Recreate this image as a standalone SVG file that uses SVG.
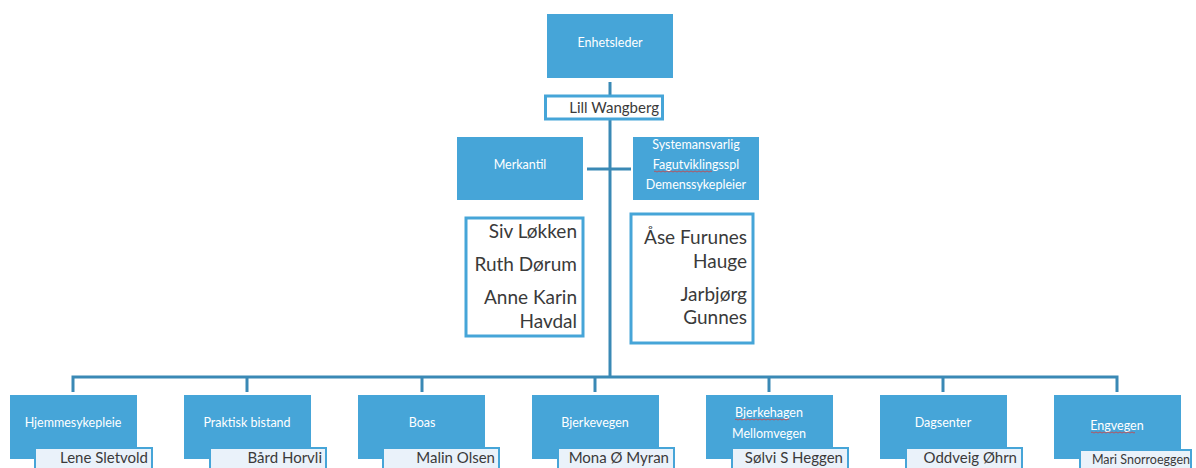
<svg xmlns="http://www.w3.org/2000/svg" width="1196" height="468" viewBox="0 0 1196 468">
<style>
.box{fill:#46A5D8;}
.lbl{font-family:Lato,"Open Sans",sans-serif;font-size:12.5px;fill:#ffffff;text-anchor:middle;}
.nbox{fill:#EAF2FA;stroke:#46A5D8;stroke-width:2;}
.name{font-family:Lato,"Open Sans",sans-serif;font-size:15px;fill:#3a3a3a;text-anchor:end;}
.wbox{fill:#ffffff;stroke:#46A5D8;stroke-width:3;}
.big{font-family:Lato,"Open Sans",sans-serif;font-size:19px;fill:#3a3a3a;text-anchor:end;}
.conn{stroke:#3A89B5;stroke-width:3;fill:none;}
.spell{stroke:#D04040;stroke-width:0.8;fill:none;}
</style>
<rect width="1196" height="468" fill="#ffffff"/>
<g id="connectors">
<line class="conn" x1="610" y1="82" x2="610" y2="378"/>
<line class="conn" x1="587" y1="169" x2="631" y2="169"/>
<polyline class="conn" points="73,392 73,377 1117,377 1117,392"/>
<line class="conn" x1="247" y1="377" x2="247" y2="392"/>
<line class="conn" x1="422" y1="377" x2="422" y2="392"/>
<line class="conn" x1="595" y1="377" x2="595" y2="392"/>
<line class="conn" x1="769" y1="377" x2="769" y2="392"/>
<line class="conn" x1="943" y1="377" x2="943" y2="392"/>
</g>
<g id="enhetsleder">
<rect class="box" x="547" y="14" width="126" height="64"/>
<text class="lbl" x="610" y="47">Enhetsleder</text>
</g>
<g id="lill">
<rect x="545.5" y="96" width="117" height="23" fill="#ffffff" stroke="#46A5D8" stroke-width="3"/>
<text class="name" x="659" y="113">Lill Wangberg</text>
</g>
<g id="merkantil">
<rect class="box" x="457" y="137" width="126" height="63"/>
<text class="lbl" x="520" y="169">Merkantil</text>
</g>
<g id="system">
<rect class="box" x="633" y="137" width="126" height="63"/>
<text class="lbl" x="696" y="149">Systemansvarlig</text>
<text class="lbl" x="696" y="169">Fagutviklingsspl</text>
<text class="lbl" x="696" y="189">Demenssykepleier</text>
<path class="spell" d="M654,171.5 q1,-1 2,0 t2,0 t2,0 t2,0 t2,0 t2,0 t2,0 t2,0 t2,0 t2,0 t2,0 t2,0 t2,0 t2,0 t2,0 t2,0 t2,0 t2,0 t2,0 t2,0 t2,0 t2,0 t2,0 t2,0 t2,0 t2,0 t2,0 t2,0 t2,0"/>
</g>
<g id="merkantil-names">
<rect class="wbox" x="466" y="218" width="117" height="118"/>
<text class="big" x="577" y="238">Siv Løkken</text>
<text class="big" x="577" y="271">Ruth Dørum</text>
<text class="big" x="577" y="304">Anne Karin</text>
<text class="big" x="577" y="328">Havdal</text>
</g>
<g id="system-names">
<rect class="wbox" x="631" y="214" width="122" height="129"/>
<text class="big" x="747" y="244">Åse Furunes</text>
<text class="big" x="747" y="268">Hauge</text>
<text class="big" x="747" y="301">Jarbjørg</text>
<text class="big" x="747" y="324">Gunnes</text>
</g>
<g id="hjemmesykepleie">
<rect class="box" x="10" y="395" width="127" height="64"/>
<text class="lbl" x="73" y="427">Hjemmesykepleie</text>
<rect class="nbox" x="35" y="448" width="117" height="24"/>
<text class="name" x="148" y="463">Lene Sletvold</text>
</g>
<g id="praktisk">
<rect class="box" x="184" y="395" width="127" height="64"/>
<text class="lbl" x="247" y="427">Praktisk bistand</text>
<rect class="nbox" x="210" y="448" width="116" height="24"/>
<text class="name" x="322" y="463">Bård Horvli</text>
</g>
<g id="boas">
<rect class="box" x="358" y="395" width="127" height="64"/>
<text class="lbl" x="422" y="427">Boas</text>
<rect class="nbox" x="383" y="448" width="116" height="24"/>
<text class="name" x="495" y="463">Malin Olsen</text>
</g>
<g id="bjerkevegen">
<rect class="box" x="532" y="395" width="127" height="64"/>
<text class="lbl" x="595" y="427">Bjerkevegen</text>
<rect class="nbox" x="558" y="448" width="116" height="24"/>
<text class="name" x="669" y="463">Mona Ø Myran</text>
</g>
<g id="bjerkehagen">
<rect class="box" x="706" y="395" width="127" height="64"/>
<text class="lbl" x="769" y="417">Bjerkehagen</text>
<text class="lbl" x="769" y="438">Mellomvegen</text>
<path class="spell" d="M735,419.5 q1,-1 2,0 t2,0 t2,0 t2,0 t2,0 t2,0 t2,0 t2,0 t2,0 t2,0 t2,0 t2,0 t2,0 t2,0 t2,0 t2,0 t2,0 t2,0 t2,0 t2,0 t2,0 t2,0 t2,0 t2,0 t2,0 t2,0 t2,0"/>
<rect class="nbox" x="732" y="448" width="116" height="24"/>
<text class="name" x="843" y="463">Sølvi S Heggen</text>
</g>
<g id="dagsenter">
<rect class="box" x="880" y="395" width="127" height="64"/>
<text class="lbl" x="943" y="427">Dagsenter</text>
<rect class="nbox" x="906" y="448" width="116" height="24"/>
<text class="name" x="1017" y="463">Oddveig Øhrn</text>
</g>
<g id="engvegen">
<rect class="box" x="1054" y="395" width="127" height="64"/>
<text class="lbl" x="1117" y="430">Engvegen</text>
<path class="spell" d="M1091,432.5 q1,-1 2,0 t2,0 t2,0 t2,0 t2,0 t2,0 t2,0 t2,0 t2,0 t2,0 t2,0 t2,0 t2,0 t2,0 t2,0 t2,0 t2,0 t2,0 t2,0 t2,0 t2,0 t2,0"/>
<rect class="nbox" x="1080" y="450" width="111" height="22"/>
<text class="name" x="1190" y="464" style="font-size:12.5px">Mari Snorroeggen</text>
</g>
</svg>
